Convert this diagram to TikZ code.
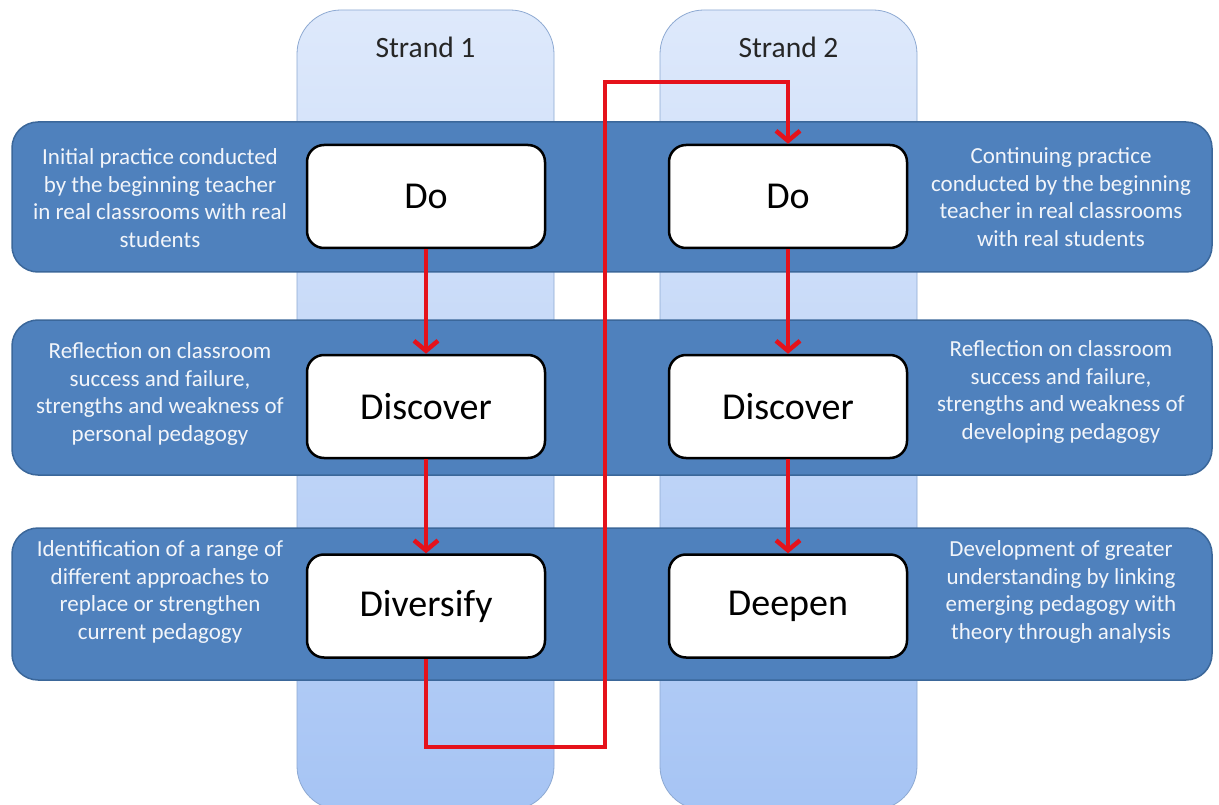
\documentclass[tikz,border=0pt]{standalone}
\usepackage{fontspec}
\setmainfont{Carlito}
\usetikzlibrary{arrows.meta}
\definecolor{bandblue}{HTML}{4F81BD}
\definecolor{bandedge}{HTML}{3B679A}
\definecolor{coltop}{HTML}{DEE9FB}
\definecolor{colbot}{HTML}{A6C4F4}
\definecolor{coledge}{HTML}{8DA9D2}
\definecolor{flowred}{HTML}{E5121B}
\definecolor{notetext}{HTML}{F2F5FA}
\begin{document}
\begin{tikzpicture}[x=1pt,y=-1pt,
  strandcol/.style={draw=coledge, line width=0.8pt, top color=coltop, bottom color=colbot,
    rounded corners=44pt, minimum width=257pt, minimum height=800pt, inner sep=0pt},
  strandlabel/.style={font=\fontsize{29.5}{32}\selectfont, text=black!85},
  band/.style={draw=bandedge, line width=1.5pt, fill=bandblue, rounded corners=26pt,
    minimum width=1200pt, inner sep=0pt},
  stage/.style={draw=black, line width=2.5pt, fill=white, rounded corners=17pt,
    minimum width=238pt, minimum height=103pt, inner sep=0pt,
    font=\fontsize{38}{42}\selectfont},
  note/.style={text=notetext, align=center, font=\fontsize{23}{27.5}\selectfont, inner sep=0pt},
  flow/.style={draw=flowred, line width=4.5pt},
  flowtip/.style={-{Straight Barb[length=10pt,width=24pt]}}
]
\useasboundingbox (0,0) rectangle (1219,805);
\fill[white] (0,0) rectangle (1219,805);

% strand columns
\node[strandcol] (col1) at (425.5,410) {};
\node[strandcol] (col2) at (788.5,410) {};
\node[strandlabel] (lab1) at (425.5,47) {Strand 1};
\node[strandlabel] (lab2) at (788.5,47) {Strand 2};

% horizontal bands
\node[band, minimum height=150pt] (row1) at (612,197) {};
\node[band, minimum height=155pt] (row2) at (612,397.5) {};
\node[band, minimum height=152pt] (row3) at (612,604) {};

% stage boxes
\node[stage] (do1)   at (426,196.5) {Do};
\node[stage] (disc1) at (426,406.5) {Discover};
\node[stage] (div1)  at (426,606)   {Diversify};
\node[stage] (do2)   at (788,196.5) {Do};
\node[stage] (disc2) at (788,406.5) {Discover};
\node[stage] (deep)  at (788,606)   {Deepen};

% descriptions, left side
\node[note] (t1l) at (160,198) {Initial practice conducted\\by the beginning teacher\\in real classrooms with real\\students};
\node[note] (t2l) at (160,394) {Reflection on classroom\\success and failure,\\strengths and weakness of\\personal pedagogy};
\node[note] (t3l) at (160,592) {Identification of a range of\\different approaches to\\replace or strengthen\\current pedagogy};

% descriptions, right side
\node[note] (t1r) at (1061,197) {Continuing practice\\conducted by the beginning\\teacher in real classrooms\\with real students};
\node[note] (t2r) at (1061,392) {Reflection on classroom\\success and failure,\\strengths and weakness of\\developing pedagogy};
\node[note] (t3r) at (1061,592) {Development of greater\\understanding  by linking\\emerging pedagogy with\\theory through analysis};

% flow
\coordinate (low)  at (605,747);
\coordinate (high) at (605,82);
\draw[flow, flowtip] (do1.south) -- (disc1.north);
\draw[flow, flowtip] (disc1.south) -- (div1.north);
\draw[flow, flowtip] (div1.south) |- (low) -- (high) -| (do2.north);
\draw[flow, flowtip] (do2.south) -- (disc2.north);
\draw[flow, flowtip] (disc2.south) -- (deep.north);
\end{tikzpicture}
\end{document}
